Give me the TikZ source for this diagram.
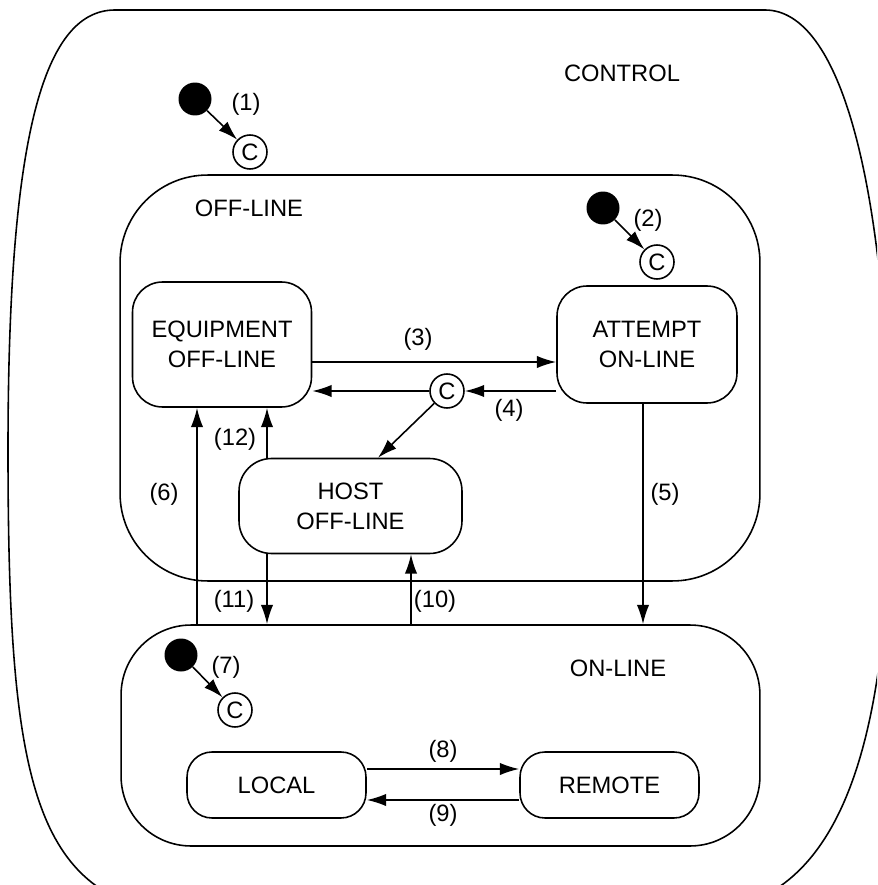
\documentclass[tikz,border=0pt]{standalone}
\usepackage{fontspec}
\setmainfont{Liberation Sans}
\usetikzlibrary{arrows.meta}
\tikzstyle{statebox}=[draw=black, line width=0.9pt, align=center, inner sep=0pt]
\tikzstyle{superbox}=[draw=black, line width=0.9pt, inner sep=0pt]
\tikzstyle{cond}=[circle, draw=black, line width=0.9pt, minimum size=0.68cm, inner sep=0pt]
\tikzstyle{initdot}=[circle, fill=black, minimum size=0.66cm, inner sep=0pt]
\tikzstyle{trans}=[-{Latex[length=11pt,width=7pt]}, line width=0.9pt]

\begin{document}
\begin{tikzpicture}[x=0.02cm, y=-0.02cm, font=\fontsize{13.5}{17}\selectfont]
  \useasboundingbox (0,0) rectangle (877,885);
  \clip (0,0) rectangle (877,885);
  % CONTROL (runs off the page)
  \draw[line width=0.9pt] (115,10) -- (765,10)
    .. controls (840,10) and (885,180) .. (890,450)
    .. controls (893,720) and (850,890) .. (720,910) -- (150,910)
    .. controls (30,880) and (8,760) .. (8,450)
    .. controls (8,150) and (40,10) .. (115,10);
  \node (control) at (622,73) {CONTROL};
  \node[initdot] (dot1) at (195,99) {};
  \node[cond] (c1) at (250,152) {C};
  \draw[trans] (dot1) -- (c1);
  \node (n1) at (246,104) {(1)};
  % OFF-LINE
  \node[superbox, rounded corners=1.75cm, minimum width=12.8cm, minimum height=8.12cm] (offline) at (440,378) {};
  \node (offlinelbl) at (249,208) {OFF-LINE};
  \node[initdot] (dot2) at (603,208) {};
  \node[cond] (c2) at (657,262) {C};
  \draw[trans] (dot2) -- (c2);
  \node (n2) at (648,220) {(2)};
  \node[statebox, rounded corners=0.6cm, minimum width=3.58cm, minimum height=2.5cm] (equip) at (222,344.5) {EQUIPMENT\\OFF-LINE};
  \node[statebox, rounded corners=0.6cm, minimum width=3.6cm, minimum height=2.34cm] (attempt) at (647,344.5) {ATTEMPT\\ON-LINE};
  \node[statebox, rounded corners=0.65cm, minimum width=4.46cm, minimum height=1.9cm] (host) at (350.5,506) {HOST\\OFF-LINE};
  \node[cond] (c4) at (447,391) {C};
  \draw[trans] (equip.east |- 0,362) -- (attempt.west |- 0,362);
  \draw[trans] (attempt.west |- c4) -- (c4);
  \draw[trans] (c4) -- (equip.east |- c4);
  \draw[trans] (c4) -- (host.north -| 378,0);
  \node (n3) at (418,339) {(3)};
  \node (n4) at (509,410) {(4)};
  \node (n12) at (235,439) {(12)};
  % ON-LINE
  \node[superbox, rounded corners=1.4cm, minimum width=12.78cm, minimum height=4.42cm] (online) at (440.5,735.5) {};
  \node (onlinelbl) at (618,668) {ON-LINE};
  \node[initdot] (dot7) at (181,655) {};
  \node[cond] (c7) at (235,710) {C};
  \draw[trans] (dot7) -- (c7);
  \node (n7) at (226,667) {(7)};
  \node[statebox, rounded corners=0.5cm, minimum width=3.58cm, minimum height=1.32cm] (local) at (276.5,785) {LOCAL};
  \node[statebox, rounded corners=0.5cm, minimum width=3.58cm, minimum height=1.32cm] (remote) at (609.5,785) {REMOTE};
  \draw[trans] (local.east |- 0,769) -- (remote.west |- 0,769);
  \draw[trans] (remote.west |- 0,800) -- (local.east |- 0,800);
  \node (n8) at (443,751) {(8)};
  \node (n9) at (443,815) {(9)};
  % between OFF-LINE and ON-LINE
  \draw[trans] (attempt.south -| 643,0) -- (online.north -| 643,0);
  \draw[trans] (online.north -| 197,0) -- (equip.south -| 197,0);
  \draw[trans] (host.north -| 267,0) -- (equip.south -| 267,0);
  \draw[trans] (host.south -| 267,0) -- (online.north -| 267,0);
  \draw[trans] (online.north -| 411,0) -- (host.south -| 411,0);
  \node (n5) at (665,494) {(5)};
  \node (n6) at (164,494) {(6)};
  \node (n11) at (234,601) {(11)};
  \node (n10) at (435,601) {(10)};
\end{tikzpicture}
\end{document}
